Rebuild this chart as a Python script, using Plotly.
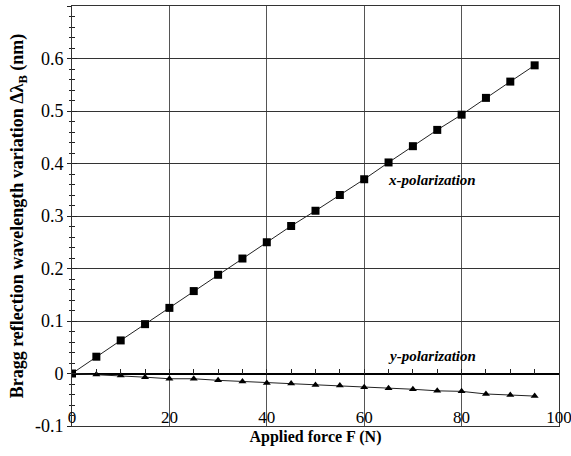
import plotly.graph_objects as go

force = [0, 5, 10, 15, 20, 25, 30, 35, 40, 45, 50, 55, 60, 65, 70, 75, 80, 85, 90, 95]
x_pol = [0, 0.032, 0.063, 0.094, 0.125, 0.157, 0.188, 0.219, 0.250, 0.281,
         0.310, 0.340, 0.370, 0.402, 0.433, 0.464, 0.493, 0.525, 0.556, 0.587]
y_pol = [0, -0.002, -0.004, -0.007, -0.010, -0.010, -0.013, -0.015, -0.018, -0.019,
         -0.022, -0.023, -0.026, -0.028, -0.030, -0.033, -0.034, -0.039, -0.041, -0.043]

x_ticks = [0, 20, 40, 60, 80, 100]
y_ticks = [-0.1, 0, 0.1, 0.2, 0.3, 0.4, 0.5, 0.6, 0.7]
y_tick_text = ["-0.1", "0", "0.1", "0.2", "0.3", "0.4", "0.5", "0.6", "0.7"]

serif = "Liberation Serif"

fig = go.Figure()
fig.add_trace(go.Scatter(x=force, y=x_pol, mode="lines+markers",
                         line=dict(color="#222", width=1),
                         marker=dict(symbol="square", size=8, color="black"),
                         showlegend=False))
fig.add_trace(go.Scatter(x=force, y=y_pol, mode="lines+markers",
                         line=dict(color="#222", width=1),
                         marker=dict(symbol="triangle-up", size=7, color="black"),
                         showlegend=False))

fig.add_annotation(x=74, y=0.368, text="<b><i>x-polarization</i></b>", showarrow=False,
                   font=dict(family=serif, size=15, color="black"))
fig.add_annotation(x=74, y=0.034, text="<b><i>y-polarization</i></b>", showarrow=False,
                   font=dict(family=serif, size=15, color="black"))

fig.update_layout(
    template="none",
    width=571, height=456,
    margin=dict(l=72, r=12, t=6, b=30),
    paper_bgcolor="white", plot_bgcolor="white",
    font=dict(family=serif, color="black"),
    xaxis=dict(range=[0, 100], tickvals=x_ticks, ticktext=[str(v) for v in x_ticks],
               ticklabelposition="inside", ticklabeloverflow="allow",
               tickfont=dict(family=serif, size=17, color="black"),
               showgrid=True, gridcolor="#555", gridwidth=1,
               showline=True, linecolor="#333", linewidth=1, mirror=True,
               ticks="", zeroline=False, automargin=False,
               title=dict(text="<b>Applied force F (N)</b>", standoff=4,
                          font=dict(family=serif, size=16, color="black"))),
    xaxis2=dict(range=[0, 100], overlaying="x", anchor="free", position=0.125,
                side="bottom", dtick=5, tick0=0, ticks="inside", ticklen=5,
                tickcolor="#222", showticklabels=False, showgrid=False,
                showline=False, zeroline=False, automargin=False),
    yaxis=dict(range=[-0.1, 0.7], tickvals=y_ticks, ticktext=y_tick_text,
               tickfont=dict(family=serif, size=18, color="black"),
               showgrid=True, gridcolor="#333", gridwidth=1,
               showline=True, linecolor="#333", linewidth=1, mirror=True,
               ticks="outside", ticklen=4, tickcolor="#222",
               minor=dict(dtick=0.02, ticks="outside", ticklen=2, tickcolor="#222", showgrid=False),
               zeroline=True, zerolinecolor="black", zerolinewidth=2,
               automargin=False,
               title=dict(text="<b>Bragg reflection wavelength variation Δλ<sub>B</sub> (nm)</b>",
                          standoff=6, font=dict(family=serif, size=18, color="black"))),
    yaxis2=dict(range=[-0.1, 0.7], overlaying="y", side="left", anchor="x",
                tickvals=y_ticks, ticks="inside", ticklen=5, tickcolor="#222",
                minor=dict(dtick=0.02, ticks="inside", ticklen=3, tickcolor="#222", showgrid=False),
                showticklabels=False, showgrid=False, showline=False, zeroline=False,
                automargin=False),
)
fig.add_trace(go.Scatter(x=[0], y=[0], xaxis="x2", yaxis="y2", mode="markers",
                         marker=dict(size=1, opacity=0), showlegend=False, hoverinfo="skip"))

fig.write_html("out.html", config={"displayModeBar": False},
               post_script="document.body.style.margin='0';document.body.style.overflow='hidden';")
